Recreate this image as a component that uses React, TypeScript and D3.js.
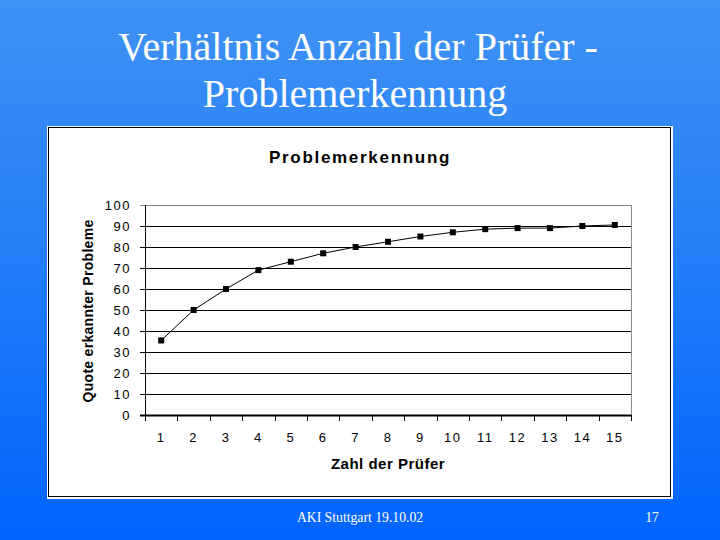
import React from "react";
import * as d3 from "d3";

const pruefer = ["1","2","3","4","5","6","7","8","9","10","11","12","13","14","15"];
const quote = [35.5, 50, 60, 69, 73, 77, 80, 82.5, 85, 87, 88.5, 89, 89, 90, 90.5];
const yTicks = [0, 10, 20, 30, 40, 50, 60, 70, 80, 90, 100];

const slideTitle1 = "Verhältnis Anzahl der Prüfer -";
const slideTitle2 = "Problemerkennung";
const chartTitle = "Problemerkennung";
const xTitle = "Zahl der Prüfer";
const yTitle = "Quote erkannter Probleme";
const footer = "AKI Stuttgart 19.10.02";
const pageNo = "17";

export default function App() {
  const left = 145, right = 631, top = 205, bottom = 415;
  const x = d3.scaleBand<string>().domain(pruefer).range([left, right]).padding(0);
  const y = d3.scaleLinear().domain([0, 100]).range([bottom, top]);
  const line = d3.line<number>()
    .x((_, i) => (x(pruefer[i]) as number) + x.bandwidth() / 2)
    .y((d) => y(d));
  const sans = "Arial, 'Liberation Sans', sans-serif";
  const serif = "'Times New Roman', 'Liberation Serif', serif";
  const bounds = x.domain().map((d) => x(d) as number).concat([right]);

  return (
    <svg width={720} height={540} style={{ position: "fixed", left: 0, top: 0 }}>
      <defs>
        <linearGradient id="bg" x1="0" y1="0" x2="0" y2="1">
          <stop offset="0" stopColor="#3f92f4" />
          <stop offset="0.45" stopColor="#2580f8" />
          <stop offset="1" stopColor="#0064fe" />
        </linearGradient>
      </defs>
      <rect x={0} y={0} width={720} height={540} fill="url(#bg)" />
      <text x={358} y={60} textAnchor="middle" fill="#fff" fontFamily={serif} fontSize={40}>{slideTitle1}</text>
      <text x={355} y={107} textAnchor="middle" fill="#fff" fontFamily={serif} fontSize={40}>{slideTitle2}</text>

      <rect x={47} y={126} width={626} height={373} fill="#fff" />
      <rect x={48.5} y={127.5} width={622} height={369} fill="none" stroke="#000" strokeWidth={1} />

      <text x={360} y={163} textAnchor="middle" fontFamily={sans} fontWeight="bold" fontSize={17} letterSpacing={1.7} fill="#000">{chartTitle}</text>

      {yTicks.map((t) => (
        <g key={t}>
          <line x1={left - 5} x2={right} y1={y(t) + 0.5} y2={y(t) + 0.5} stroke={t === 100 ? "#888" : "#000"} strokeWidth={1} />
          <text x={131} y={y(t) + 5} textAnchor="end" fontFamily={sans} fontSize={13} letterSpacing={1.5} fill="#000">{t}</text>
        </g>
      ))}
      <line x1={right + 0.5} x2={right + 0.5} y1={top} y2={bottom} stroke="#888" />
      <line x1={left + 0.5} x2={left + 0.5} y1={top} y2={bottom + 5} stroke="#000" />
      <line x1={left - 5} x2={right} y1={bottom + 0.5} y2={bottom + 0.5} stroke="#000" strokeWidth={2} />
      {bounds.map((b, i) => (
        <line key={i} x1={Math.round(b) + 0.5} x2={Math.round(b) + 0.5} y1={bottom} y2={bottom + 6} stroke="#000" />
      ))}
      {pruefer.map((p) => (
        <text key={p} x={(x(p) as number) + x.bandwidth() / 2} y={442} textAnchor="middle" fontFamily={sans} fontSize={13} letterSpacing={1.5} fill="#000">{p}</text>
      ))}

      <path d={line(quote) as string} fill="none" stroke="#000" strokeWidth={1} />
      {quote.map((v, i) => (
        <rect key={i} x={(x(pruefer[i]) as number) + x.bandwidth() / 2 - 3} y={y(v) - 3} width={6} height={6} fill="#000" />
      ))}

      <text x={388} y={469} textAnchor="middle" fontFamily={sans} fontWeight="bold" fontSize={15} letterSpacing={0.5} fill="#000">{xTitle}</text>
      <text transform={`translate(93,311) rotate(-90)`} textAnchor="middle" fontFamily={sans} fontWeight="bold" fontSize={14} letterSpacing={0.3} fill="#000">{yTitle}</text>

      <text x={360} y={522} textAnchor="middle" fill="#fff" fontFamily={serif} fontSize={13.7}>{footer}</text>
      <text x={652} y={522} textAnchor="middle" fill="#fff" fontFamily={serif} fontSize={13.7}>{pageNo}</text>
    </svg>
  );
}
